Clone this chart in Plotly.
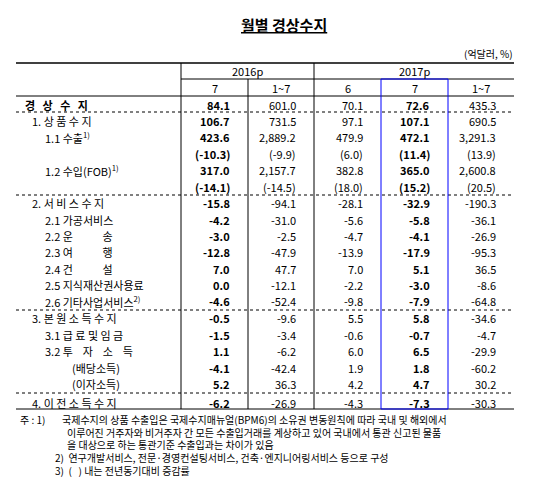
import plotly.graph_objects as go

# Table content
row_labels = [
    "경   상   수   지", "1. 상 품 수 지", "1.1 수출<sup>1)</sup>", "", "1.2 수입(FOB)<sup>1)</sup>", "",
    "2. 서 비 스 수 지", "2.1 가공서비스", "2.2 운            송", "2.3 여            행",
    "2.4 건            설", "2.5 지식재산권사용료", "2.6 기타사업서비스<sup>2)</sup>",
    "3. 본 원 소 득 수 지", "3.1 급 료 및 임 금", "3.2 투    자    소    득",
    "(배당소득)", "(이자소득)", "4. 이 전 소 득 수 지",
]
row_indent = [15, 22, 35, 35, 35, 35, 22, 35, 35, 35, 35, 35, 35, 22, 35, 35, 62, 62, 22]
row_y = [97, 113, 129, 146, 162, 179, 195, 212, 228, 244, 261, 277, 293, 310, 327, 343, 360, 376, 395]

col_2016_7 = ["84.1", "106.7", "423.6", "(-10.3)", "317.0", "(-14.1)", "-15.8", "-4.2", "-3.0", "-12.8",
              "7.0", "0.0", "-4.6", "-0.5", "-1.5", "1.1", "-4.1", "5.2", "-6.2"]
col_2016_17 = ["601.0", "731.5", "2,889.2", "(-9.9)", "2,157.7", "(-14.5)", "-94.1", "-31.0", "-2.5", "-47.9",
               "47.7", "-12.1", "-52.4", "-9.6", "-3.4", "-6.2", "-42.4", "36.3", "-26.9"]
col_2017_6 = ["70.1", "97.1", "479.9", "(6.0)", "382.8", "(18.0)", "-28.1", "-5.6", "-4.7", "-13.9",
              "7.0", "-2.2", "-9.8", "5.5", "-0.6", "6.0", "1.9", "4.2", "-4.3"]
col_2017_7 = ["72.6", "107.1", "472.1", "(11.4)", "365.0", "(15.2)", "-32.9", "-5.8", "-4.1", "-17.9",
              "5.1", "-3.0", "-7.9", "5.8", "-0.7", "6.5", "1.8", "4.7", "-7.3"]
col_2017_17 = ["435.3", "690.5", "3,291.3", "(13.9)", "2,600.8", "(20.5)", "-190.3", "-36.1", "-26.9", "-95.3",
               "36.5", "-8.6", "-64.8", "-34.6", "-4.7", "-29.9", "-60.2", "30.2", "-30.3"]

years = ["2016p", "2017p"]
months = ["7", "1~7", "6", "7", "1~7"]
notes = [
    "주 : 1)",
    "국제수지의 상품 수출입은 국제수지매뉴얼(BPM6)의 소유권 변동원칙에 따라 국내 및 해외에서",
    "이루어진 거주자와 비거주자 간 모든 수출입거래를 계상하고 있어 국내에서 통관 신고된 물품",
    "을 대상으로 하는 통관기준 수출입과는 차이가 있음",
    "2)  연구개발서비스, 전문·경영컨설팅서비스, 건축·엔지니어링서비스 등으로 구성",
    "3)  (   ) 내는 전년동기대비 증감률",
]
note_x = [10, 52, 57, 57, 45, 45]
note_y = [411, 411, 424, 436, 449, 462]

FONT = "Noto Sans CJK KR"
col_edges = [173, 240, 306, 373, 440, 506]
columns = [col_2016_7, col_2016_17, col_2017_6, col_2017_7, col_2017_17]
bold_cols = [True, False, False, True, False]

fig = go.Figure()
ann = []
shapes = []

def text(x, y, s, anchor="left", size=11, bold=False):
    s = s.replace(" ", "&nbsp;")
    if bold:
        s = "<b>" + s + "</b>"
    ann.append(dict(x=x, y=y, text=s, showarrow=False, xanchor=anchor, yanchor="middle",
                    font=dict(family=FONT, size=size, color="black")))

def line(x0, y0, x1, y1, width=1, dash="solid", color="black"):
    shapes.append(dict(type="line", x0=x0, y0=y0, x1=x1, y1=y1,
                       line=dict(color=color, width=width, dash=dash)))

ann.append(dict(x=276, y=16, text="<b><u>월별 경상수지</u></b>", showarrow=False,
                xanchor="center", yanchor="middle", font=dict(family=FONT, size=15, color="black")))
text(507, 45, "(억달러, %)", anchor="right", size=10)

# header
text((col_edges[0] + col_edges[2]) / 2, 63, years[0], anchor="center")
text((col_edges[2] + col_edges[5]) / 2, 63, years[1], anchor="center")
for i, m in enumerate(months):
    text((col_edges[i] + col_edges[i + 1]) / 2, 80, m, anchor="center")

# body
for r, lab in enumerate(row_labels):
    if lab:
        text(row_indent[r], row_y[r], lab, bold=(r == 0))
    for c, col in enumerate(columns):
        text(col_edges[c + 1] - 16, row_y[r], col[r], anchor="right", bold=bold_cols[c])

# rules
line(8, 55, 506, 55, width=1.6)
line(173, 71, 506, 71)
line(8, 88, 506, 88)
for y in [104, 187, 302, 385]:
    line(8, y, 506, y, dash="dot")
line(8, 401, 506, 401)
for x in [173, 306]:
    line(x, 55, x, 401)
line(240, 71, 240, 401)
line(373, 71, 373, 401, color="blue")
line(440, 71, 440, 401, color="blue")
line(373, 71, 440, 71, color="blue")
line(373, 401, 440, 401, color="blue")

for s, x, y in zip(notes, note_x, note_y):
    text(x, y, s, size=10)

fig.update_layout(
    width=552, height=477, margin=dict(l=0, r=0, t=0, b=0),
    paper_bgcolor="white", plot_bgcolor="white",
    xaxis=dict(range=[0, 552], visible=False, fixedrange=True),
    yaxis=dict(range=[477, 0], visible=False, fixedrange=True),
    annotations=ann, shapes=shapes, showlegend=False,
)
fig.write_html("out.html")
